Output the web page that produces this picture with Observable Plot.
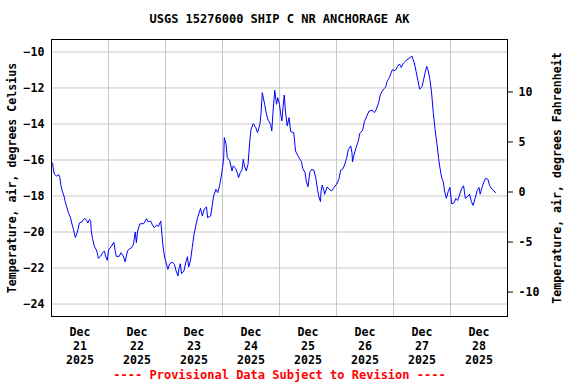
<!DOCTYPE html>
<html><head><meta charset="utf-8">
<script src="https://cdn.jsdelivr.net/npm/d3@7"></script>
<script src="https://cdn.jsdelivr.net/npm/@observablehq/plot@0.6"></script>
<style>html,body{margin:0;padding:0;background:#fff}svg{display:block}</style>
</head><body><div id="chart"></div>
<script>
const title = "USGS 15276000 SHIP C NR ANCHORAGE AK";
const footer = "---- Provisional Data Subject to Revision ----";
const yLabelLeft = "Temperature, air, degrees Celsius";
const yLabelRight = "Temperature, air, degrees Fahrenheit";
const startDate = "2025-12-21T00:00:00Z";
const endDate = "2025-12-29T00:00:00Z";
// hours since start
const hours = [0.5,0.75,1.25,2.25,3,3.5,4,4.5,5.25,5.75,
6.5,7.25,8,8.5,9.25,10,10.5,11,11.75,12.75,
14,14.75,15.25,16,16.5,16.75,17.25,18,18.75,19.25,
19.75,20.75,21.5,22.25,22.75,23.5,24,25,26.25,26.75,
27.25,28.5,29.25,30.25,31,32,32.75,33.75,34.5,35.25,
35.75,36.25,37.25,38.75,39.5,40,40.75,41.75,42.5,43.25,
44.25,45,46,46.5,47,47.75,48.25,49,49.75,50.75,
51.75,52.5,53.25,53.75,54.25,54.75,55.75,56.5,57.25,57.75,
58.5,59.25,60,60.75,61.5,62.75,63.5,64.25,65.25,65.75,
67,67.75,68.25,69.25,70,70.75,71.5,72,72.5,72.75,
73.5,74,75,76,76.5,77.5,78.25,78.75,79.5,80.25,
80.75,81.25,82,82.75,83.5,84,85,86,86.75,87.75,
88.25,88.75,89.75,90.5,91.25,92.25,92.75,93.25,94,94.75,
95.25,96,96.5,97,97.5,98,98.5,99.25,100,100.75,
102,102.75,104,105.25,105.75,106.75,107.25,108,108.75,109.5,
110.5,111.25,112,112.5,113.25,113.5,114,114.75,115,116,
117,118,118.75,120,121,121.75,122.5,123.25,124.25,125,
126,126.5,126.75,127.25,128.25,129.25,129.75,131,131.75,132.75,
133.75,135,136,136.75,137.75,138.5,139.75,140.75,141.25,142.25,
143.5,144.25,145,145.75,146.5,147.25,148.25,149.25,150.5,151.75,
152.75,153.5,154.25,155,156,156.5,157.25,158,158.5,159.25,
160,160.75,161.5,162.25,163,163.5,164.25,165,165.5,166.25,
167,167.75,168.5,169.5,170.25,171,172,172.75,173.5,174.25,
175,176,176.75,177.5,178.25,179.25,180,180.5,181.25,182,
182.75,183.75,184.5,185.5,187];
const tempC = [-16.17,-16.5,-16.8,-16.9,-16.8,-16.98,-17.44,-17.72,-18.0,-18.3,
-18.65,-18.98,-19.2,-19.5,-19.85,-20.3,-20.17,-19.94,-19.5,-19.44,
-19.24,-19.35,-19.5,-19.3,-19.4,-19.94,-20.35,-20.78,-20.96,-21.15,
-21.46,-21.33,-21.15,-21.05,-21.33,-21.57,-21.0,-20.83,-20.57,-20.98,
-21.35,-21.35,-21.15,-21.33,-21.65,-21.05,-20.94,-20.87,-20.68,-20.0,
-20.59,-19.94,-19.54,-19.54,-19.39,-19.26,-19.43,-19.39,-19.61,-19.76,
-19.61,-19.69,-19.39,-20.13,-20.87,-21.46,-21.7,-22.07,-21.76,-21.67,
-21.8,-22.17,-22.44,-21.98,-21.76,-22.3,-22.17,-21.7,-21.37,-21.94,
-21.6,-20.87,-20.13,-19.67,-19.2,-18.69,-19.11,-18.74,-18.61,-19.2,
-19.11,-18.46,-18.0,-17.63,-17.81,-17.44,-16.89,-16.43,-15.87,-14.76,
-15.13,-15.87,-16.02,-16.61,-16.33,-16.46,-16.7,-16.98,-16.7,-16.52,
-15.96,-16.33,-16.61,-16.24,-14.94,-14.3,-13.98,-14.2,-14.48,-14.02,
-13.37,-12.26,-12.91,-13.46,-13.8,-14.02,-14.39,-13.37,-12.13,-12.91,
-12.54,-12.91,-13.46,-13.83,-13.06,-12.39,-13.28,-14.11,-13.65,-14.43,
-14.48,-15.5,-15.83,-16.09,-16.46,-16.7,-17.17,-17.48,-16.7,-16.52,
-16.57,-16.98,-17.63,-18.0,-18.31,-17.72,-17.39,-17.72,-17.91,-17.5,
-17.63,-17.72,-17.57,-17.35,-17.07,-16.57,-16.52,-16.33,-15.91,-15.41,
-15.22,-15.59,-16.11,-15.78,-15.31,-14.91,-14.54,-14.35,-13.87,-13.56,
-13.28,-13.24,-13.37,-13.19,-12.81,-12.35,-12.07,-11.94,-11.65,-11.42,
-10.99,-11.04,-10.99,-10.8,-10.67,-10.86,-10.61,-10.48,-10.36,-10.23,
-10.61,-11.08,-11.56,-12.07,-11.93,-11.65,-11.18,-10.8,-10.99,-11.46,
-12.22,-13.36,-14.3,-15.07,-15.92,-16.39,-16.96,-17.24,-17.72,-18.13,
-17.76,-17.53,-18.44,-18.38,-18.13,-18.25,-17.87,-17.57,-17.43,-18.13,
-18.06,-17.9,-18.29,-18.52,-18.19,-17.68,-17.53,-17.9,-17.53,-17.24,
-17.02,-17.07,-17.43,-17.62,-17.81];
const celsiusTicks = [-10,-12,-14,-16,-18,-20,-22,-24];
const fahrenheitTicks = [10,5,0,-5,-10];
const yDomain = [-24.69, -9.31];

const t0 = new Date(startDate);
const t1 = new Date(endDate);
const data = hours.map((h, i) => ({date: new Date(+t0 + h * 3600e3), c: tempC[i]}));
const midnights = d3.utcDay.range(t0, new Date(+t1 + 1));
const noons = d3.utcDay.range(t0, t1).map(d => d3.utcHour.offset(d, 12));
const f2c = f => (f - 32) * 5 / 9;
const font = "'DejaVu Sans Mono', 'Liberation Mono', monospace";

const chart = Plot.plot({
  width: 576, height: 384,
  marginLeft: 51, marginRight: 69, marginTop: 39, marginBottom: 68,
  style: {fontFamily: font, fontSize: "11.6px", fontWeight: "bold", background: "#fff", color: "#000"},
  x: {type: "utc", domain: [t0, t1]},
  y: {domain: yDomain},
  marks: [
    Plot.gridX(midnights, {stroke: "#c8c8c8", strokeOpacity: 1, strokeWidth: 1}),
    Plot.gridY(celsiusTicks, {stroke: "#c8c8c8", strokeOpacity: 1, strokeWidth: 1}),
    Plot.lineY(data, {x: "date", y: "c", stroke: "#0000ff", strokeWidth: 1}),
    Plot.frame({stroke: "#000", strokeWidth: 1}),
    Plot.axisX(noons, {tickSize: 0, tickPadding: 9, lineHeight: 1.23, label: null,
      tickFormat: d3.utcFormat("%b\n%d\n%Y")}),
    Plot.axisY(celsiusTicks, {anchor: "left", tickSize: 0, tickPadding: 7, label: null}),
    Plot.axisY(fahrenheitTicks.map(f2c), {anchor: "right", tickSize: 5, tickPadding: 6, label: null,
      tickFormat: c => String(Math.round(c * 9 / 5 + 32))}),
    Plot.text([title], {text: d => d, frameAnchor: "top", dy: -20, fontSize: 12, lineAnchor: "middle"}),
    Plot.text([footer], {text: d => d, frameAnchor: "bottom", dy: 59, fontSize: 12, fill: "#ff0000", lineAnchor: "middle"}),
    Plot.text([yLabelLeft], {text: d => d, frameAnchor: "left", rotate: -90, dx: -39, lineAnchor: "middle", textAnchor: "middle"}),
    Plot.text([yLabelRight], {text: d => d, frameAnchor: "right", rotate: -90, dx: 50, lineAnchor: "middle", textAnchor: "middle"})
  ]
});
document.getElementById("chart").appendChild(chart);
</script>
</body></html>
